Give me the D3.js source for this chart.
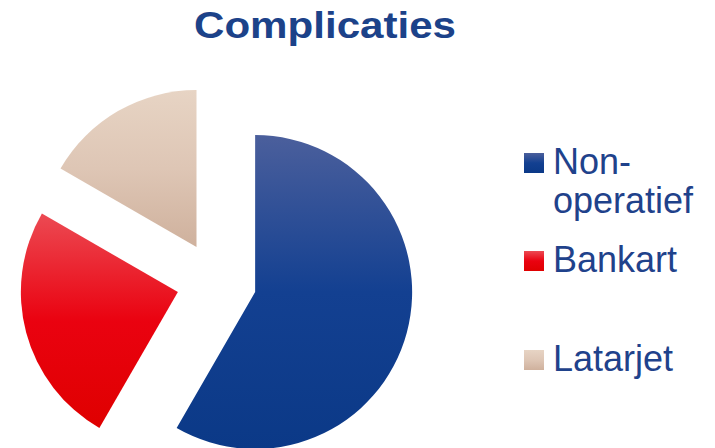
<!DOCTYPE html>
<html>
<head>
<meta charset="utf-8">
<script src="https://d3js.org/d3.v7.min.js"></script>
<style>
  body { margin: 0; background: #fff; }
  text { font-family: "Liberation Sans", Arial, sans-serif; }
</style>
</head>
<body>
<div id="cont"></div>
<script>
// data
var categories = ["Non-operatief", "Bankart", "Latarjet"];
var values = [7, 3, 2];
var legendLines = [["Non-", "operatief"], ["Bankart"], ["Latarjet"]];
var gradStops = [
    ["#4b5f9c", "#134091", "#0b3987"],
    ["#ec4a53", "#ea0210", "#df0000"],
    ["#e7d4c4", "#dec6b5", "#cfb19d"]
];

var width = 715, height = 448;
var cx = 216.5, cy = 281.7, radius = 157, explode = 40;
var titleColor = "#1c4289";

var svg = d3.select("#cont").append("svg")
    .attr("width", width)
    .attr("height", height);

var defs = svg.append("defs");

var pie = d3.pie().sort(null).value(function (d) { return d; });
var arc = d3.arc().innerRadius(0).outerRadius(radius);
var arcs = pie(values);

// each slice gets a vertical gradient over its own box
arcs.forEach(function (a, i) {
    var g = defs.append("linearGradient")
        .attr("id", "grad" + i)
        .attr("x1", 0).attr("y1", 0).attr("x2", 0).attr("y2", 1);
    g.append("stop").attr("offset", "0%").attr("stop-color", gradStops[i][0]);
    g.append("stop").attr("offset", "50%").attr("stop-color", gradStops[i][1]);
    g.append("stop").attr("offset", "100%").attr("stop-color", gradStops[i][2]);
});

svg.append("g")
    .attr("transform", "translate(" + cx + "," + cy + ")")
    .selectAll("path")
    .data(arcs)
    .enter().append("path")
    .attr("d", arc)
    .attr("fill", function (d, i) { return "url(#grad" + i + ")"; })
    .attr("transform", function (d) {
        var mid = (d.startAngle + d.endAngle) / 2;
        return "translate(" + (Math.sin(mid) * explode) + "," + (-Math.cos(mid) * explode) + ")";
    });

// title (wider in the original, so stretch it)
svg.append("text")
    .attr("x", 325)
    .attr("y", 38)
    .attr("text-anchor", "middle")
    .attr("font-size", 37)
    .attr("font-weight", "bold")
    .attr("fill", titleColor)
    .attr("textLength", 262)
    .attr("lengthAdjust", "spacingAndGlyphs")
    .text("Complicaties");

// legend
var legendY = [174, 272, 371];
var leg = svg.append("g").selectAll("g")
    .data(categories)
    .enter().append("g");

leg.append("rect")
    .attr("x", 524)
    .attr("y", function (d, i) { return legendY[i] - 21; })
    .attr("width", 20)
    .attr("height", 20)
    .attr("fill", function (d, i) { return "url(#grad" + i + ")"; });

leg.append("text")
    .attr("x", 553)
    .attr("y", function (d, i) { return legendY[i]; })
    .attr("font-size", 36)
    .attr("fill", "#1f428b")
    .each(function (d, i) {
        var t = d3.select(this);
        legendLines[i].forEach(function (line, k) {
            t.append("tspan")
                .attr("x", 553)
                .attr("dy", k === 0 ? 0 : 39)
                .text(line);
        });
    });
</script>
</body>
</html>
